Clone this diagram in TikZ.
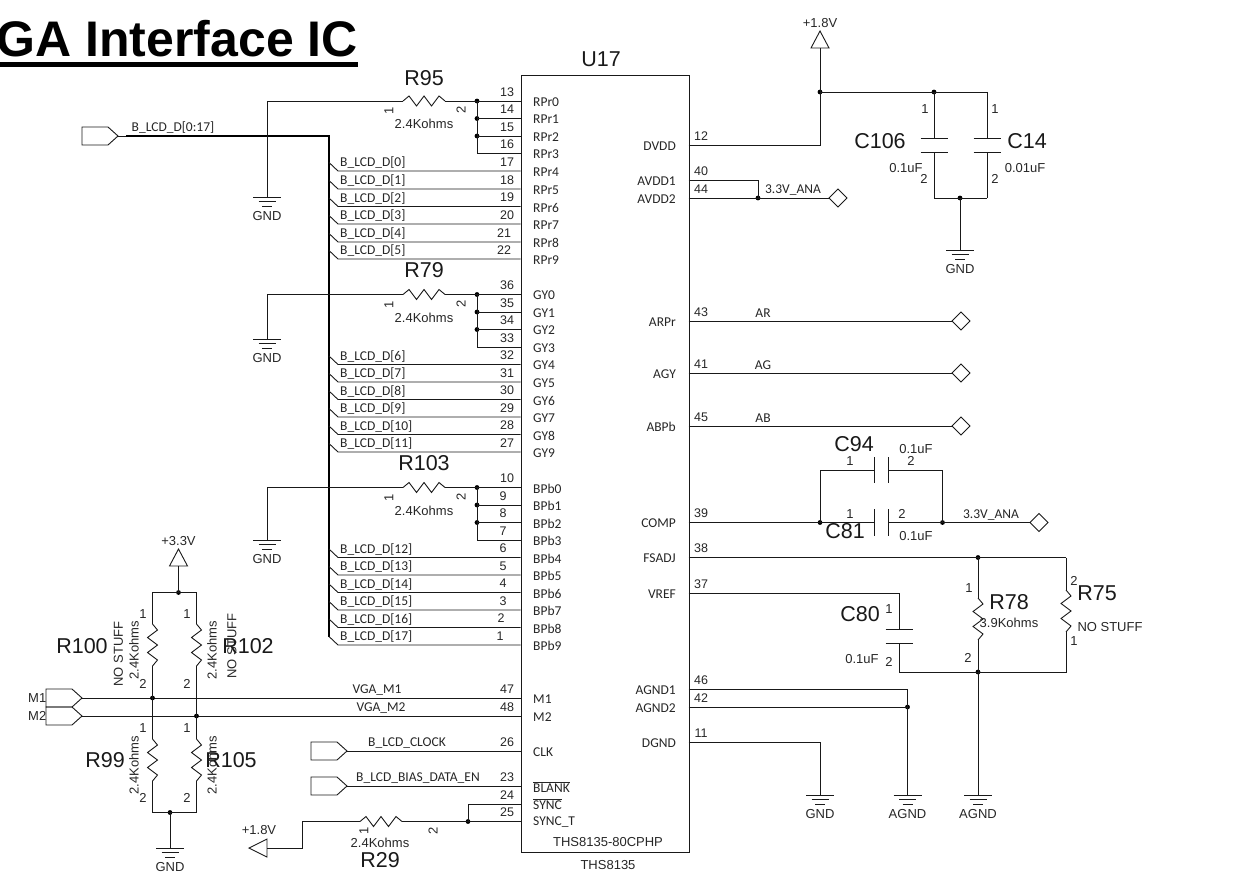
\documentclass[tikz,border=0pt]{standalone}
\usepackage{fontspec}
\setmainfont{Liberation Sans}
\newfontfamily\pinf{Carlito}
\tikzset{
  wire/.style={line width=.9pt,draw=black!90,line join=miter},
  bus/.style={line width=2.2pt,draw=black},
  dot/.style={circle,fill=black,inner sep=0pt,minimum size=4.8pt},
  txt/.style={inner sep=0pt,font=\fontsize{13}{13}\selectfont,text=black!85},
  mono/.style={inner sep=0pt,font=\fontsize{13.5}{14}\pinf\selectfont,text=black!85},
  ref/.style={inner sep=0pt,font=\fontsize{21.5}{22}\selectfont,text=black!90},
  pinno/.style={txt,font=\fontsize{12.5}{13}\selectfont},
}
\newcommand\ovl[1]{\leavevmode\vbox{\hrule height .7pt\kern 1pt\hbox{#1}}}
% horizontal resistor
\newcommand\resH[3]{%
  \coordinate (#1a) at (#2,#3);\coordinate (#1b) at (#2+42,#3);
  \draw[wire] (#1a) -- ++(6,-5) -- ++(7.5,10) -- ++(7.5,-10) -- ++(7.5,10) -- ++(7.5,-10) -- (#1b);}
% vertical resistor
\newcommand\resV[3]{%
  \coordinate (#1a) at (#2,#3);\coordinate (#1b) at (#2,#3+42);
  \draw[wire] (#1a) -- ++(5,6) -- ++(-10,7.5) -- ++(10,7.5) -- ++(-10,7.5) -- ++(10,7.5) -- (#1b);}
% ground symbol
\newcommand\gnd[4]{%
  \coordinate (#1) at (#2,#3);
  \draw[wire] (#2-14,#3) -- (#2+14,#3) (#2-8.5,#3+4.5) -- (#2+8.5,#3+4.5) (#2-5,#3+9) -- (#2+5,#3+9);
  \node[txt] (#1t) at (#2,#3+19.5) {#4};}
% off-page port, tip to the right
\newcommand\port[3]{%
  \coordinate (#1) at (#2,#3);
  \draw[wire] (#1) -- (#2-10,#3-9) -- (#2-36,#3-9) -- (#2-36,#3+9) -- (#2-10,#3+9) -- cycle;}
% diamond port, left corner given
\newcommand\dia[3]{%
  \coordinate (#1) at (#2,#3);
  \draw[wire] (#1) -- (#2+9,#3-9) -- (#2+18,#3) -- (#2+9,#3+9) -- cycle;}
\begin{document}
\begin{tikzpicture}[x=1pt,y=-1pt]
\useasboundingbox (0,0) rectangle (1241,888);
% title
\node[inner sep=0pt,anchor=base east,font=\fontsize{50}{50}\selectfont\bfseries] (title) at (358,57) {GA Interface IC};
\fill (0,62.5) rectangle (358,67.5);
% IC
\node[draw=black!90,line width=.9pt,minimum width=168pt,minimum height=777pt,inner sep=0pt,anchor=north west] (U) at (520.5,75) {};
\node[ref] (U17) at (601,59) {U17};
\node[txt] (ups) at (608,842) {THS8135-80CPHP};
\node[txt] (ulab) at (608,865) {THS8135};
% left pins
\foreach \n/\y/\t/\nx in {13/101/RPr0/507,14/118.5/RPr1/507,15/136/RPr2/507,16/153.5/RPr3/507,17/171/RPr4/507,18/189/RPr5/507,19/206.5/RPr6/507,20/224/RPr7/507,21/242/RPr8/504,22/259/RPr9/504,
 36/294.5/GY0/507,35/312/GY1/507,34/329.5/GY2/507,33/347/GY3/507,32/364.5/GY4/507,31/382/GY5/507,30/399.5/GY6/507,29/417/GY7/507,28/434.5/GY8/507,27/452/GY9/507,
 10/487.5/BPb0/507,9/505/BPb1/503,8/522.5/BPb2/503,7/540/BPb3/503,6/557.5/BPb4/503,5/575/BPb5/503,4/592.5/BPb6/503,3/610/BPb7/503,2/627.5/BPb8/501,1/645/BPb9/500,
 47/698/M1/507,48/716/M2/507,26/751/CLK/507,25/821.5/SYNC\_T/507}{
  \coordinate (pL\n) at (520.5,\y);
  \node[pinno] (nL\n) at (\nx,\y-9) {\n};
  \node[mono,anchor=west] (tL\n) at (533,\y+1) {\t};
}
\coordinate (pL23) at (520.5,786);\node[pinno] (nL23) at (507,777) {23};\node[mono,anchor=west] (tL23) at (533,787) {\ovl{BLANK}};
\coordinate (pL24) at (520.5,804);\node[pinno] (nL24) at (507,795) {24};\node[mono,anchor=west] (tL24) at (533,804.5) {\ovl{SYNC}};
% right pins
\foreach \n/\y/\t in {12/145/DVDD,40/180/AVDD1,44/198/AVDD2,43/321/ARPr,41/373/AGY,45/426/ABPb,39/522.5/COMP,38/557.5/FSADJ,37/593/VREF,46/689/AGND1,42/707/AGND2,11/742/DGND}{
  \coordinate (pR\n) at (688.5,\y);
  \node[pinno] (nR\n) at (701,\y-9) {\n};
  \node[mono,anchor=east] (tR\n) at (676,\y+1) {\t};
}
% data bus
\port{pbus}{118}{136}
\coordinate (busa) at (126,136);\coordinate (busb) at (329,136);\coordinate (busc) at (329,636.5);
\draw[wire] (pbus) -- (busa);
\draw[bus] (busa) -- (busb) -- (busc);
\node[mono] (lbus) at (173,128) {B\_LCD\_D[0:17]};
\foreach \n/\y/\k in {17/171/0,18/189/1,19/206.5/2,20/224/3,21/242/4,22/259/5,32/364.5/6,31/382/7,30/399.5/8,29/417/9,28/434.5/10,27/452/11,6/557.5/12,5/575/13,4/592.5/14,3/610/15,2/627.5/16,1/645/17}{
  \coordinate (eA\n) at (329,\y-8.5);
  \coordinate (eB\n) at (338,\y);
  \draw[wire] (eA\n) -- (eB\n) -- (pL\n);
  \node[mono,anchor=west] (lb\n) at (340,\y-8) {B\_LCD\_D[\k]};
}
% pull-down groups on the R/G/B low bits
\foreach \r/\y/\la/\lb/\lc/\ld/\g/\lbl/\ry in {95/101/13/14/15/16/197/R95/78,79/294.5/36/35/34/33/339/R79/270,103/487.5/10/9/8/7/540/R103/463}{
  \resH{r\r}{403}{\y}
  \node[ref] (lr\r) at (424,\ry) {\lbl};
  \node[txt] (vr\r) at (424,\y+23) {2.4Kohms};
  \node[txt,rotate=90] (ra\r) at (389,\y+10) {1};
  \node[txt,rotate=90] (rb\r) at (461,\y+9) {2};
  \gnd{g\r}{267}{\g}{GND}
  \coordinate (cr\r) at (267,\y);
  \draw[wire] (g\r) -- (cr\r) -- (r\r a);
  \node[dot] (d\r a) at (477,\y) {};
  \draw[wire] (r\r b) -- (pL\la);
  \node[dot] (d\r b) at (477,\y+17.5) {};
  \node[dot] (d\r c) at (477,\y+35) {};
  \draw[wire] (d\r b.center) -- (pL\lb);
  \draw[wire] (d\r c.center) -- (pL\lc);
  \coordinate (c\r d) at (477,\y+52.5);
  \draw[wire] (d\r a.center) -- (c\r d) -- (pL\ld);
}
% M1 M2
\port{pm1}{82}{698}
\port{pm2}{82}{716}
\node[txt,anchor=east] (tm1) at (46.5,698) {M1};
\node[txt,anchor=east] (tm2) at (46.5,716) {M2};
\draw[wire] (pm1) -- (pL47);
\draw[wire] (pm2) -- (pL48);
\node[mono] (vm1) at (377,690.5) {VGA\_M1};
\node[mono] (vm2) at (381,708.5) {VGA\_M2};
\node[dot] (dm1) at (152.5,698) {};
\node[dot] (dm2) at (196.5,716) {};
\node[dot] (dtop) at (178.5,592.5) {};
\node[dot] (dbot) at (170,812.5) {};
\resV{r100}{152.5}{624}
\resV{r102}{196.5}{624}
\resV{r99}{152.5}{739}
\resV{r105}{196.5}{739}
\coordinate (ctl) at (152.5,592.5);\coordinate (ctr) at (196.5,592.5);
\coordinate (cbl) at (152.5,812.5);\coordinate (cbr) at (196.5,812.5);
\draw[wire] (r100a) -- (ctl) -- (ctr) -- (r102a);
\draw[wire] (r100b) -- (r99a) (r102b) -- (r105a);
\draw[wire] (r99b) -- (cbl) -- (cbr) -- (r105b);
\coordinate (vp33) at (178.5,566);
\draw[wire] (vp33) -- (169.5,566) -- (178.5,549) -- (187.5,566) -- cycle;
\draw[wire] (dtop.center) -- (vp33);
\node[txt] (l33) at (178.5,541) {+3.3V};
\gnd{gb}{170}{848}{GND}
\draw[wire] (dbot.center) -- (gb);
\foreach \x in {143,187}{
  \node[txt] at (\x,614) {1};\node[txt] at (\x,683.5) {2};
  \node[txt] at (\x,728) {1};\node[txt] at (\x,797.5) {2};
}
\node[txt,rotate=90] (s100) at (118.5,654) {NO STUFF};
\node[txt,rotate=90] (v100) at (134,650) {2.4Kohms};
\node[txt,rotate=90] (v102) at (212,650) {2.4Kohms};
\node[txt,rotate=90] (s102) at (232,646) {NO STUFF};
\node[txt,rotate=90] (v99) at (134,765) {2.4Kohms};
\node[txt,rotate=90] (v105) at (212,765) {2.4Kohms};
\node[ref] (l100) at (82,646) {R100};
\node[ref] (l102) at (248,646) {R102};
\node[ref] (l99) at (105,760) {R99};
\node[ref] (l105) at (231,760) {R105};
% clock, bias
\port{pclk}{347}{751}
\port{pbias}{347}{786}
\draw[wire] (pclk) -- (pL26);
\draw[wire] (pbias) -- (pL23);
\node[mono] (lclk) at (407,743) {B\_LCD\_CLOCK};
\node[mono] (lbias) at (418,778) {B\_LCD\_BIAS\_DATA\_EN};
% R29
\resH{r29}{360}{821.5}
\node[dot] (d29) at (468,821.5) {};
\coordinate (c24) at (468,804);
\draw[wire] (r29b) -- (pL25);
\draw[wire] (d29.center) -- (c24) -- (pL24);
\coordinate (c29a) at (302,821.5);\coordinate (c29b) at (302,848);\coordinate (v18b) at (267,848);
\draw[wire] (r29a) -- (c29a) -- (c29b) -- (v18b);
\draw[wire] (v18b) -- (267,839) -- (249,848) -- (267,857) -- cycle;
\node[txt] (l18b) at (259,830) {+1.8V};
\node[txt,rotate=90] (r29n1) at (364,831) {1};
\node[txt,rotate=90] (r29n2) at (433,831) {2};
\node[txt] (v29) at (380,843) {2.4Kohms};
\node[ref] (l29) at (380,860) {R29};
% supply +1.8V and decoupling
\coordinate (c12) at (820,145);\node[dot] (d18) at (820,92) {};
\coordinate (v18) at (820,48);
\draw[wire] (pR12) -- (c12) -- (v18);
\draw[wire] (v18) -- (811,48) -- (820,31) -- (829,48) -- cycle;
\node[txt] (l18) at (820,23) {+1.8V};
\node[dot] (dc106) at (934,92) {};
\coordinate (c14t) at (987,92);
\draw[wire] (d18.center) -- (c14t);
\node[dot] (dcg) at (960,198) {};
\foreach \c/\x in {a/934,b/987}{
  \coordinate (cap\c p) at (\x,138);\coordinate (cap\c q) at (\x,152);\coordinate (cap\c r) at (\x,198);
  \draw[wire] (\x-13.5,138) -- (\x+13.5,138) (\x-13.5,152) -- (\x+13.5,152);
  \draw[wire] (cap\c q) -- (cap\c r);
}
\draw[wire] (dc106.center) -- (capap);
\draw[wire] (c14t) -- (capbp);
\draw[wire] (capar) -- (capbr);
\gnd{gc}{960}{250}{GND}
\draw[wire] (dcg.center) -- (gc);
\node[txt] at (925,109) {1};\node[txt] at (995,109) {1};
\node[txt] at (924,179) {2};\node[txt] at (995,179) {2};
\node[txt] (v106) at (906,168) {0.1uF};
\node[txt] (v14) at (1025,168) {0.01uF};
\node[ref] (l106) at (880,141) {C106};
\node[ref] (l14) at (1027,141) {C14};
% AVDD
\node[dot] (dav) at (758,198) {};
\coordinate (cav) at (758,180);
\draw[wire] (pR40) -- (cav) -- (dav.center);
\dia{pav}{829}{198}
\draw[wire] (pR44) -- (pav);
\node[mono] (lav) at (793,190) {3.3V\_ANA};
% analog out
\dia{par}{952}{321}\dia{pag}{952}{373}\dia{pab}{952}{426}
\draw[wire] (pR43) -- (par);\draw[wire] (pR41) -- (pag);\draw[wire] (pR45) -- (pab);
\node[mono] (lar) at (763,313) {AR};\node[mono] (lag) at (763,365) {AG};\node[mono] (lab) at (763,418) {AB};
% C94 C81
\node[dot] (dcl) at (820,522.5) {};\node[dot] (dcr) at (942.5,522.5) {};
\coordinate (c94l) at (820,470);\coordinate (c94r) at (942.5,470);
\coordinate (c94a) at (874,470);\coordinate (c94b) at (888.5,470);
\coordinate (c81a) at (874,522.5);\coordinate (c81b) at (888.5,522.5);
\draw[wire] (874,457) -- (874,483) (888.5,457) -- (888.5,483);
\draw[wire] (874,509) -- (874,536) (888.5,509) -- (888.5,536);
\draw[wire] (dcl.center) -- (c94l) -- (c94a);
\draw[wire] (c94b) -- (c94r) -- (dcr.center);
\draw[wire] (pR39) -- (c81a);
\dia{pcomp}{1030}{522.5}
\draw[wire] (c81b) -- (pcomp);
\node[mono] (lcomp) at (991,515) {3.3V\_ANA};
\node[ref] (l94) at (854,444) {C94};
\node[txt] (v94) at (916,449) {0.1uF};
\node[txt] at (850,461) {1};\node[txt] at (911,461) {2};
\node[txt] at (850,514) {1};\node[txt] at (902,514) {2};
\node[ref] (l81) at (845,531) {C81};
\node[txt] (v81) at (916,536) {0.1uF};
% FSADJ VREF
\node[dot] (dfs) at (978,557.5) {};\node[dot] (dfb) at (978,672) {};
\coordinate (c75t) at (1066,557.5);\coordinate (c75b) at (1066,672);
\draw[wire] (pR38) -- (c75t);
\resV{r78}{978}{598}
\resV{r75}{1066}{590}
\draw[wire] (dfs.center) -- (r78a);
\draw[wire] (c75t) -- (r75a);
\draw[wire] (r75b) -- (c75b) -- (dfb.center);
\gnd{ga2}{978}{795}{AGND}
\draw[wire] (r78b) -- (ga2);
\coordinate (c80t) at (899,593);\coordinate (c80p) at (899,629.5);\coordinate (c80q) at (899,643.5);\coordinate (c80b) at (899,672);
\draw[wire] (pR37) -- (c80t) -- (c80p);
\draw[wire] (885.5,629.5) -- (912.5,629.5) (885.5,643.5) -- (912.5,643.5);
\draw[wire] (c80q) -- (c80b) -- (dfb.center);
\node[txt] at (889,609) {1};\node[txt] at (889,662) {2};
\node[txt] (v80) at (862,659) {0.1uF};
\node[ref] (l80) at (860,614) {C80};
\node[txt] at (969,588) {1};\node[txt] at (968,658) {2};
\node[ref] (l78) at (1009,602) {R78};
\node[txt] (v78) at (1009,623) {3.9Kohms};
\node[txt] at (1074,581) {2};\node[txt] at (1074,641) {1};
\node[ref] (l75) at (1097,593) {R75};
\node[txt] (s75) at (1110,627) {NO STUFF};
% grounds right
\node[dot] (dag) at (907.5,707) {};
\coordinate (cag) at (907.5,689);
\gnd{ga1}{907.5}{795}{AGND}
\draw[wire] (pR46) -- (cag) -- (ga1);
\draw[wire] (pR42) -- (dag.center);
\gnd{gd}{820}{795}{GND}
\coordinate (cd) at (820,742);
\draw[wire] (pR11) -- (cd) -- (gd);
\end{tikzpicture}
\end{document}
